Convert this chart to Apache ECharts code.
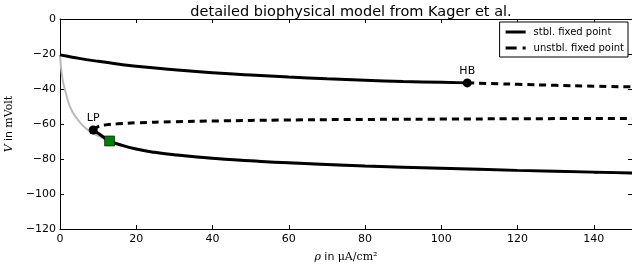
<!DOCTYPE html>
<html>
<head>
<meta charset="utf-8">
<script src="https://cdn.jsdelivr.net/npm/echarts@6/dist/echarts.min.js"></script>
<style>
  html, body { margin: 0; padding: 0; background: #fff; }
  #chart { width: 632px; height: 274px; }
</style>
</head>
<body>
<div id="chart"></div>
<script>
// [rho, V] pairs per branch
const upperStable = [[0,-20.5],[2,-21.3],[5,-22.5],[10,-24.2],[15,-25.7],[20,-27],[30,-29],[40,-30.7],[50,-32],[60,-33.2],[70,-34.2],[80,-35],[90,-35.7],[100,-36.2],[106.8,-36.5]]
const upperUnstable = [[106.8,-36.5],[115,-37],[120,-37.3],[130,-37.9],[140,-38.4],[150,-38.8]]
const middleUnstable = [[8.7,-63.4],[10,-61.5],[12,-60.5],[15,-59.9],[20,-59.3],[30,-58.7],[40,-58.3],[60,-57.7],[80,-57.4],[100,-57.2],[120,-57],[150,-56.8]]
const lowerStable = [[8.7,-63.4],[10,-65.3],[13,-69.6],[16,-72],[20,-74.3],[25,-76.2],[30,-77.6],[40,-79.6],[50,-81],[60,-82.2],[80,-84],[100,-85.3],[120,-86.5],[140,-87.5],[150,-88]]
const grayTrace = [[0,-20.6],[0.2,-26],[0.45,-31],[0.8,-36],[1.3,-40.4],[2,-46],[2.6,-50],[3.5,-54],[4.4,-56.8],[6.1,-61.1],[7.9,-64.4],[10,-66.8],[13,-69.8],[16,-72.2],[20,-74.5],[25,-76.4],[30,-77.8],[40,-79.8],[60,-82.4],[80,-84.2],[100,-85.5],[120,-86.7],[150,-88.1]]
const bifPoints = [[106.8,-36.5,'HB'],[8.7,-63.4,'LP']]
const startPoint = [[13,-69.7]]

const chart = echarts.init(document.getElementById('chart'))
const minus = v => String(v).replace('-', '\u2212')
const font = 'DejaVu Sans'

const baseX = {
  type: 'value', min: 0, max: 150, interval: 20,
  axisLine: { show: true, onZero: false, lineStyle: { color: '#000', width: 1 } },
  axisTick: { show: true, inside: true, length: 4, lineStyle: { color: '#000' } },
  splitLine: { show: false }
}
const baseY = {
  type: 'value', min: -120, max: 0, interval: 20,
  axisLine: { show: true, onZero: false, lineStyle: { color: '#000', width: 1 } },
  axisTick: { show: true, inside: true, length: 4, lineStyle: { color: '#000' } },
  splitLine: { show: false }
}
const rich = {
  i: { fontFamily: 'DejaVu Serif', fontStyle: 'italic', fontSize: 11, color: '#000' },
  s: { fontFamily: font, fontSize: 11, color: '#000' },
  m: { fontFamily: 'DejaVu Serif', fontSize: 11, color: '#000' }
}

const option = {
  animation: false,
  backgroundColor: '#fff',
  title: {
    text: 'detailed biophysical model from Kager et al.',
    left: 346, top: 0, textAlign: 'center',
    textStyle: { fontFamily: font, fontSize: 14.5, fontWeight: 'normal', color: '#000' }
  },
  grid: { left: 60, right: 0, top: 19, bottom: 45, outerBoundsMode: 'none', containLabel: false },
  legend: {
    orient: 'vertical', right: 4, top: 22,
    backgroundColor: '#fff', borderColor: '#000', borderWidth: 1, borderRadius: 0,
    padding: [5, 4, 4, 6], itemGap: 6, itemWidth: 20, itemHeight: 3,
    textStyle: { fontFamily: font, fontSize: 10, color: '#000', padding: [0, 0, 0, 3] },
    data: [
      { name: 'stbl. fixed point', icon: 'path://M0,0H20V3H0Z' },
      { name: 'unstbl. fixed point', icon: 'path://M0,0H11V3H0Z M17,0H20V3H17Z' }
    ]
  },
  xAxis: [
    Object.assign({}, baseX, {
      position: 'bottom',
      axisLabel: { color: '#000', fontFamily: font, fontSize: 11, margin: 5, showMaxLabel: false },
      name: '{i|ρ} {s|in} {m|μA/cm²}', nameLocation: 'middle', nameGap: 22,
      nameTextStyle: { rich: rich }
    }),
    Object.assign({}, baseX, { position: 'top', axisLabel: { show: false } })
  ],
  yAxis: [
    Object.assign({}, baseY, {
      position: 'left',
      axisLabel: { color: '#000', fontFamily: font, fontSize: 11, margin: 4, formatter: minus },
      name: '{i|V} {s|in} {m|mVolt}', nameLocation: 'middle', nameGap: 44, nameRotate: 90,
      nameTextStyle: { rich: rich }
    }),
    Object.assign({}, baseY, { position: 'right', axisLabel: { show: false } })
  ],
  series: [
    {
      type: 'line', data: grayTrace, symbol: 'none', smooth: true, z: 1,
      lineStyle: { color: '#bbbbbb', width: 2 }, silent: true
    },
    {
      name: 'stbl. fixed point', type: 'line', data: upperStable, symbol: 'none', smooth: true, z: 3,
      lineStyle: { color: '#000', width: 3 }, itemStyle: { color: '#000' }
    },
    {
      name: 'stbl. fixed point', type: 'line', data: lowerStable, symbol: 'none', smooth: true, z: 3,
      lineStyle: { color: '#000', width: 3 }, itemStyle: { color: '#000' }
    },
    {
      name: 'unstbl. fixed point', type: 'line', data: upperUnstable, symbol: 'none', smooth: true, z: 3,
      lineStyle: { color: '#000', width: 3, type: [7, 5] }, itemStyle: { color: '#000' }
    },
    {
      name: 'unstbl. fixed point', type: 'line', data: middleUnstable, symbol: 'none', smooth: true, z: 3,
      lineStyle: { color: '#000', width: 3, type: [7, 5] }, itemStyle: { color: '#000' }
    },
    {
      type: 'scatter', data: bifPoints, symbolSize: 9, z: 4,
      itemStyle: { color: '#000', opacity: 1 },
      label: {
        show: true, position: 'top', distance: 2,
        formatter: p => p.data[2],
        fontFamily: font, fontSize: 11, color: '#000'
      }
    },
    {
      type: 'scatter', data: startPoint, symbol: 'rect', symbolSize: 10, z: 5,
      itemStyle: { color: '#008000', borderColor: '#000', borderWidth: 0.6, opacity: 1 }
    }
  ]
}
chart.setOption(option)
</script>
</body>
</html>
